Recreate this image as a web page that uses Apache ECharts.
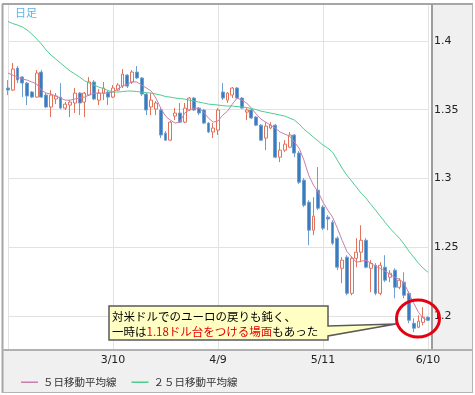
<!DOCTYPE html>
<html><head><meta charset="utf-8">
<script src="https://cdn.jsdelivr.net/npm/echarts@6/dist/echarts.min.js"></script>
<style>html,body{margin:0;padding:0;background:#fff}#main{width:475px;height:395px}</style>
</head><body><div id="main"></div>
<script>
const dates = ['2/8','2/9','2/10','2/11','2/12','2/15','2/16','2/17','2/18','2/19','2/22','2/23','2/24','2/25','2/26','3/1','3/2','3/3','3/4','3/5','3/8','3/9','3/10','3/11','3/12','3/15','3/16','3/17','3/18','3/19','3/22','3/23','3/24','3/25','3/26','3/29','3/30','3/31','4/1','4/2','4/5','4/6','4/7','4/8','4/9','4/12','4/13','4/14','4/15','4/16','4/19','4/20','4/21','4/22','4/23','4/26','4/27','4/28','4/29','4/30','5/3','5/4','5/5','5/6','5/7','5/10','5/11','5/12','5/13','5/14','5/17','5/18','5/19','5/20','5/21','5/24','5/25','5/26','5/27','5/28','5/31','6/1','6/2','6/3','6/4','6/7','6/8','6/9','6/10'];
const opens = [1.3658,1.3643,1.3803,1.3738,1.3694,1.3629,1.3592,1.3774,1.3607,1.3520,
1.3578,1.3592,1.3512,1.3534,1.3549,1.3621,1.3556,1.3607,1.3702,1.3570,
1.3621,1.3629,1.3592,1.3643,1.3672,1.3752,1.3702,1.3774,1.3731,1.3614,
1.3520,1.3505,1.3498,1.3330,1.3279,1.3454,1.3476,1.3410,1.3498,1.3585,
1.3512,1.3498,1.3403,1.3338,1.3352,1.3629,1.3570,1.3607,1.3658,1.3585,
1.3483,1.3498,1.3447,1.3388,1.3294,1.3367,1.3388,1.3155,1.3206,1.3228,
1.3316,1.3185,1.2988,1.2828,1.2624,1.2915,1.2792,1.2719,1.2682,1.2566,
1.2347,1.2428,1.2165,1.2420,1.2464,1.2551,1.2347,1.2369,1.2165,1.2355,
1.2282,1.2333,1.2209,1.2246,1.2165,1.1947,1.1918,1.1954,1.1991];
const closes = [1.3643,1.3796,1.3716,1.3694,1.3600,1.3592,1.3767,1.3592,1.3520,1.3607,
1.3600,1.3512,1.3541,1.3556,1.3621,1.3549,1.3621,1.3702,1.3578,1.3621,
1.3658,1.3592,1.3658,1.3680,1.3760,1.3672,1.3774,1.3731,1.3614,1.3498,
1.3570,1.3549,1.3316,1.3279,1.3410,1.3476,1.3410,1.3512,1.3585,1.3498,
1.3476,1.3403,1.3338,1.3367,1.3498,1.3585,1.3621,1.3658,1.3585,1.3512,
1.3498,1.3440,1.3388,1.3279,1.3381,1.3388,1.3155,1.3206,1.3250,1.3316,
1.3185,1.2973,1.2806,1.2624,1.2726,1.2784,1.2639,1.2705,1.2529,1.2355,
1.2406,1.2165,1.2420,1.2464,1.2551,1.2355,1.2384,1.2165,1.2369,1.2260,
1.2311,1.2209,1.2260,1.2151,1.1969,1.1911,1.1962,1.1991,1.1969];
const lows = [1.3607,1.3636,1.3694,1.3592,1.3534,1.3585,1.3588,1.3585,1.3512,1.3447,
1.3541,1.3505,1.3498,1.3447,1.3476,1.3461,1.3447,1.3600,1.3570,1.3534,
1.3570,1.3534,1.3585,1.3636,1.3658,1.3658,1.3687,1.3723,1.3600,1.3461,
1.3461,1.3461,1.3294,1.3272,1.3272,1.3425,1.3403,1.3403,1.3490,1.3490,
1.3461,1.3396,1.3330,1.3294,1.3316,1.3570,1.3549,1.3585,1.3578,1.3505,
1.3425,1.3432,1.3381,1.3272,1.3206,1.3359,1.3148,1.3119,1.3192,1.3221,
1.3155,1.2959,1.2792,1.2515,1.2588,1.2770,1.2624,1.2624,1.2515,1.2333,
1.2238,1.2151,1.2151,1.2355,1.2391,1.2347,1.2173,1.2151,1.2151,1.2246,
1.2246,1.2129,1.2195,1.2129,1.1947,1.1882,1.1911,1.1932,1.1962];
const highs = [1.3716,1.3840,1.3818,1.3745,1.3702,1.3636,1.3789,1.3789,1.3621,1.3643,
1.3621,1.3694,1.3556,1.3570,1.3658,1.3629,1.3629,1.3738,1.3716,1.3650,
1.3702,1.3636,1.3680,1.3694,1.3796,1.3760,1.3789,1.3818,1.3738,1.3621,
1.3621,1.3563,1.3512,1.3345,1.3418,1.3512,1.3549,1.3549,1.3592,1.3592,
1.3520,1.3505,1.3410,1.3403,1.3512,1.3694,1.3629,1.3665,1.3665,1.3592,
1.3512,1.3505,1.3454,1.3396,1.3410,1.3410,1.3396,1.3265,1.3279,1.3338,
1.3323,1.3199,1.3003,1.2842,1.2864,1.3083,1.2806,1.2733,1.2697,1.2580,
1.2428,1.2442,1.2435,1.2566,1.2660,1.2566,1.2406,1.2384,1.2391,1.2442,
1.2333,1.2347,1.2275,1.2318,1.2180,1.1983,1.2005,1.2064,1.1998];
const ma5 = [1.3767,1.3752,1.3738,1.3723,1.3716,1.3702,1.3687,1.3643,1.3621,1.3614,
1.3600,1.3585,1.3570,1.3570,1.3578,1.3585,1.3592,1.3607,1.3621,1.3621,
1.3621,1.3621,1.3629,1.3651,1.3672,1.3687,1.3702,1.3702,1.3680,1.3658,
1.3636,1.3585,1.3512,1.3454,1.3425,1.3403,1.3410,1.3476,1.3498,1.3512,
1.3512,1.3483,1.3439,1.3410,1.3418,1.3461,1.3490,1.3541,1.3585,1.3570,
1.3549,1.3512,1.3469,1.3432,1.3410,1.3388,1.3367,1.3338,1.3323,1.3308,
1.3265,1.3221,1.3134,1.3024,1.2952,1.2901,1.2828,1.2770,1.2719,1.2639,
1.2551,1.2471,1.2428,1.2391,1.2398,1.2406,1.2384,1.2362,1.2347,1.2326,
1.2304,1.2282,1.2267,1.2238,1.2165,1.2093,1.2027,1.1983,1.1969];
const ma25 = [1.4142,1.4127,1.4116,1.4102,1.4080,1.4051,1.4015,1.3978,1.3934,1.3898,
1.3869,1.3840,1.3811,1.3782,1.3760,1.3738,1.3712,1.3694,1.3680,1.3665,
1.3654,1.3640,1.3629,1.3629,1.3632,1.3636,1.3636,1.3632,1.3629,1.3625,
1.3621,1.3614,1.3607,1.3596,1.3592,1.3585,1.3581,1.3578,1.3570,1.3563,
1.3556,1.3549,1.3541,1.3538,1.3534,1.3530,1.3527,1.3527,1.3523,1.3520,
1.3516,1.3509,1.3501,1.3490,1.3483,1.3476,1.3469,1.3461,1.3454,1.3439,
1.3425,1.3396,1.3359,1.3330,1.3301,1.3272,1.3243,1.3221,1.3192,1.3134,
1.3075,1.3024,1.2981,1.2937,1.2893,1.2857,1.2813,1.2770,1.2726,1.2682,
1.2639,1.2602,1.2566,1.2522,1.2471,1.2428,1.2384,1.2347,1.2318];
const xTickLabels = ['3/10','4/9','5/11','6/10'];
const yTickLabels = [1.2, 1.25, 1.3, 1.35, 1.4];
const seriesNames = ['５日移動平均線', '２５日移動平均線'];

const candleData = dates.map((d, i) => [opens[i], closes[i], lows[i], highs[i]]);
const chart = echarts.init(document.getElementById('main'), null, {renderer: 'canvas'});
const latin = 'DejaVu Sans';
const jp = 'Noto Sans CJK JP';
const option = {
  animation: false,
  backgroundColor: '#ffffff',
  grid: [
    {left: 8, width: 420, top: -27.75, height: 412.5, show: false, outerBoundsMode: 'none'},
    {left: 8, width: 420, top: 5, height: 345, show: false, outerBoundsMode: 'none'}
  ],
  xAxis: [
    {type: 'category', gridIndex: 0, data: dates, boundaryGap: false,
     axisLine: {show: false}, axisTick: {show: false}, axisLabel: {show: false}, splitLine: {show: false}},
    {type: 'category', gridIndex: 1, data: dates, boundaryGap: false,
     axisLine: {show: false}, axisTick: {show: false},
     axisLabel: {interval: (i, v) => xTickLabels.includes(v), margin: 5, color: '#222', fontSize: 11, fontFamily: latin},
     splitLine: {show: true, interval: (i, v) => i === 0 || xTickLabels.includes(v), lineStyle: {color: '#e2e2e2', width: 1}}}
  ],
  yAxis: [
    {type: 'value', gridIndex: 0, position: 'right', min: 1.15, max: 1.45, interval: 0.05, scale: true,
     axisLine: {show: false}, axisTick: {show: false},
     axisLabel: {margin: 6, color: '#222', fontSize: 11, fontFamily: latin,
       formatter: v => { const r = Math.round(v * 100) / 100; return yTickLabels.includes(r) ? String(r) : ''; }},
     splitLine: {show: true, showMinLine: false, showMaxLine: false, lineStyle: {color: '#e2e2e2', width: 1}}},
    {type: 'value', gridIndex: 1, show: false}
  ],
  legend: {
    data: seriesNames, left: 16, top: 372, icon: 'rect', itemWidth: 17, itemHeight: 1.5, itemGap: 15,
    textStyle: {fontSize: 10.5, color: '#333', fontFamily: jp}
  },
  series: [
    {type: 'candlestick', xAxisIndex: 0, yAxisIndex: 0, data: candleData, barWidth: 3.4,
     itemStyle: {color: '#ffffff', color0: '#3a7bbf', borderColor: '#e2735a', borderColor0: '#6f9fd0', borderWidth: 1}},
    {type: 'line', name: seriesNames[0], xAxisIndex: 0, yAxisIndex: 0, data: ma5, symbol: 'none', z: 3,
     lineStyle: {color: '#c97fa9', width: 1}, itemStyle: {color: '#c97fa9'}},
    {type: 'line', name: seriesNames[1], xAxisIndex: 0, yAxisIndex: 0, data: ma25, symbol: 'none', z: 3,
     lineStyle: {color: '#4fcb90', width: 1}, itemStyle: {color: '#4fcb90'}}
  ],
  graphic: [
    {type: 'rect', z: -10, silent: true, shape: {x: 432, y: 4, width: 41, height: 346}, style: {fill: '#f0f0f0'}},
    {type: 'rect', z: -10, silent: true, shape: {x: 2, y: 350, width: 471, height: 43}, style: {fill: '#f0f0f0'}},
    {type: 'line', z: 50, silent: true, shape: {x1: 2, y1: 4, x2: 473, y2: 4}, style: {stroke: '#a6a6a6', lineWidth: 2}},
    {type: 'line', z: 50, silent: true, shape: {x1: 2.5, y1: 4, x2: 2.5, y2: 393}, style: {stroke: '#a6a6a6', lineWidth: 2}},
    {type: 'line', z: 50, silent: true, shape: {x1: 472.5, y1: 4, x2: 472.5, y2: 393}, style: {stroke: '#b4b4b4', lineWidth: 1}},
    {type: 'line', z: 50, silent: true, shape: {x1: 2, y1: 392.5, x2: 473, y2: 392.5}, style: {stroke: '#b4b4b4', lineWidth: 1}},
    {type: 'line', z: 50, silent: true, shape: {x1: 432, y1: 4, x2: 432, y2: 350}, style: {stroke: '#9c9c9c', lineWidth: 2}},
    {type: 'line', z: 50, silent: true, shape: {x1: 2, y1: 350, x2: 473, y2: 350}, style: {stroke: '#b0b0b0', lineWidth: 2}},
    {type: 'text', z: 50, silent: true, x: 15, y: 7, style: {text: '日足', fontSize: 11, fill: '#5ab4e5', fontFamily: jp}},
    {type: 'polygon', z: 100, silent: true,
     shape: {points: [[109, 306], [328, 306], [328, 326], [396, 324], [328, 336], [328, 340], [109, 340]]},
     style: {fill: '#ffffc4', stroke: '#5a5a5a', lineWidth: 1.5}},
    {type: 'text', z: 101, silent: true, x: 112, y: 309,
     style: {text: '対米ドルでのユーロの戻りも鈍く、\n{k|一時は}{r|1.18ドル台をつける場面}{k|もあった}',
       fontSize: 11.5, fill: '#000', lineHeight: 15, fontFamily: jp,
       rich: {k: {fill: '#000', fontSize: 11.5, lineHeight: 15, fontFamily: jp},
              r: {fill: '#e60000', fontSize: 11.5, lineHeight: 15, fontFamily: jp}}}},
    {type: 'ellipse', z: 102, silent: true, shape: {cx: 418, cy: 318.5, rx: 21.5, ry: 18.5},
     style: {fill: 'transparent', stroke: '#e60012', lineWidth: 3}}
  ]
};
chart.setOption(option);
</script></body></html>
